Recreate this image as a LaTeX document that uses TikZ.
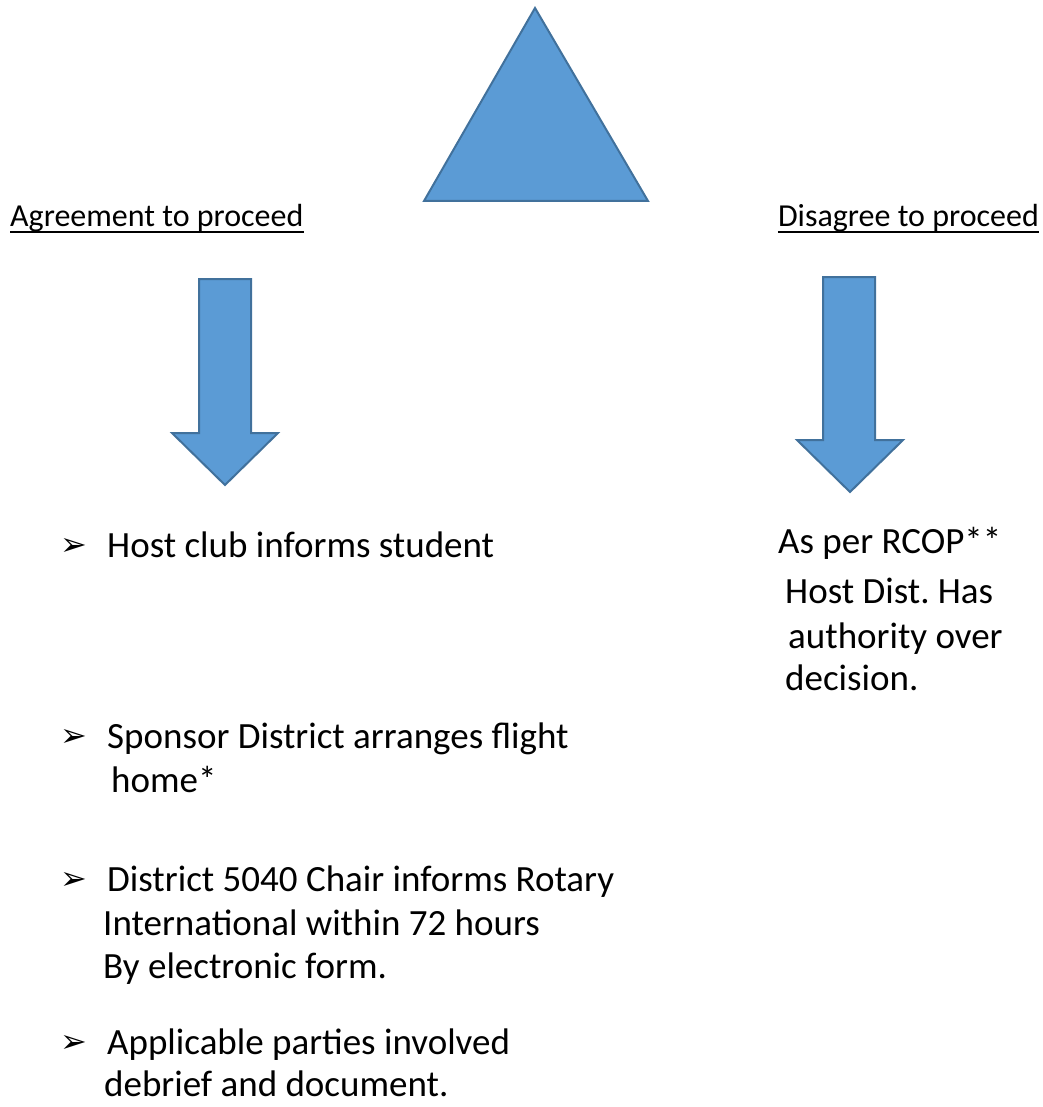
\documentclass[tikz,border=0pt]{standalone}
\usepackage{fontspec}
\setmainfont{Carlito}
\newfontfamily\bulletfont{DejaVu Sans}
\usetikzlibrary{positioning}

\tikzset{
  blockshape/.style={fill=blockfill,draw=blockline,line width=2pt,line join=miter},
  txt/.style={anchor=base west,inner sep=0pt,font=\fontsize{37}{44}\selectfont\frenchspacing},
  head/.style={txt,font=\fontsize{32}{40}\selectfont},
  bul/.style={anchor=base west,inner sep=0pt,font=\bulletfont\fontsize{32}{40}\selectfont},
  uline/.style={line width=2pt},
}
\definecolor{blockfill}{HTML}{5B9BD5}
\definecolor{blockline}{HTML}{41719C}

\begin{document}
\begin{tikzpicture}[x=1pt,y=-1pt]
        \useasboundingbox (0,0) rectangle (1042,1107);
        % triangle and the two down arrows
        \draw[blockshape] (535,8)--(648,201)--(424,201)--cycle;
        \draw[blockshape] (199,279)--(251,279)--(251,433)--(278,433)--(225,485)--(172,433)--(199,433)--cycle;
        \draw[blockshape] (823,277)--(875,277)--(875,440)--(903,440)--(850,492)--(797,440)--(823,440)--cycle;
        % headings
        \node[head] (agree) at (10,227) {Agreement to proceed};
        \node[head,anchor=base east] (disagree) at (1039,227) {Disagree to proceed};
        \draw[uline] ([yshift=-5pt]agree.base west) -- ([yshift=-5pt]agree.base east);
        \draw[uline] ([yshift=-5pt]disagree.base west) -- ([yshift=-5pt]disagree.base east);
        % left list
        \node[bul] (b1) at (60,555) {➢};
        \node[txt] (host) at (107,557) {Host club informs student};
        \node[bul] (b2) at (60,746) {➢};
        \node[txt] (sponsor) at (107,748) {Sponsor District arranges flight};
        \node[txt] (home) at (111,792) {home*};
        \node[bul] (b3) at (60,889) {➢};
        \node[txt] (chair) at (107,891) {District 5040 Chair informs Rotary};
        \node[txt] (intl) at (103,935) {International within 72 hours};
        \node[txt] (form) at (103,978) {By electronic form.};
        \node[bul] (b4) at (60,1052) {➢};
        \node[txt] (parties) at (107,1054) {Applicable parties involved};
        \node[txt] (debrief) at (104,1096) {debrief and document.};
        % right text
        \node[txt] (rcop) at (778,553) {As per RCOP**};
        \node[txt] (hostdist) at (785,603) {Host Dist. Has};
        \node[txt] (authority) at (788,648) {authority over};
        \node[txt] (decision) at (785,690) {decision.};
    \end{tikzpicture}
\end{document}
